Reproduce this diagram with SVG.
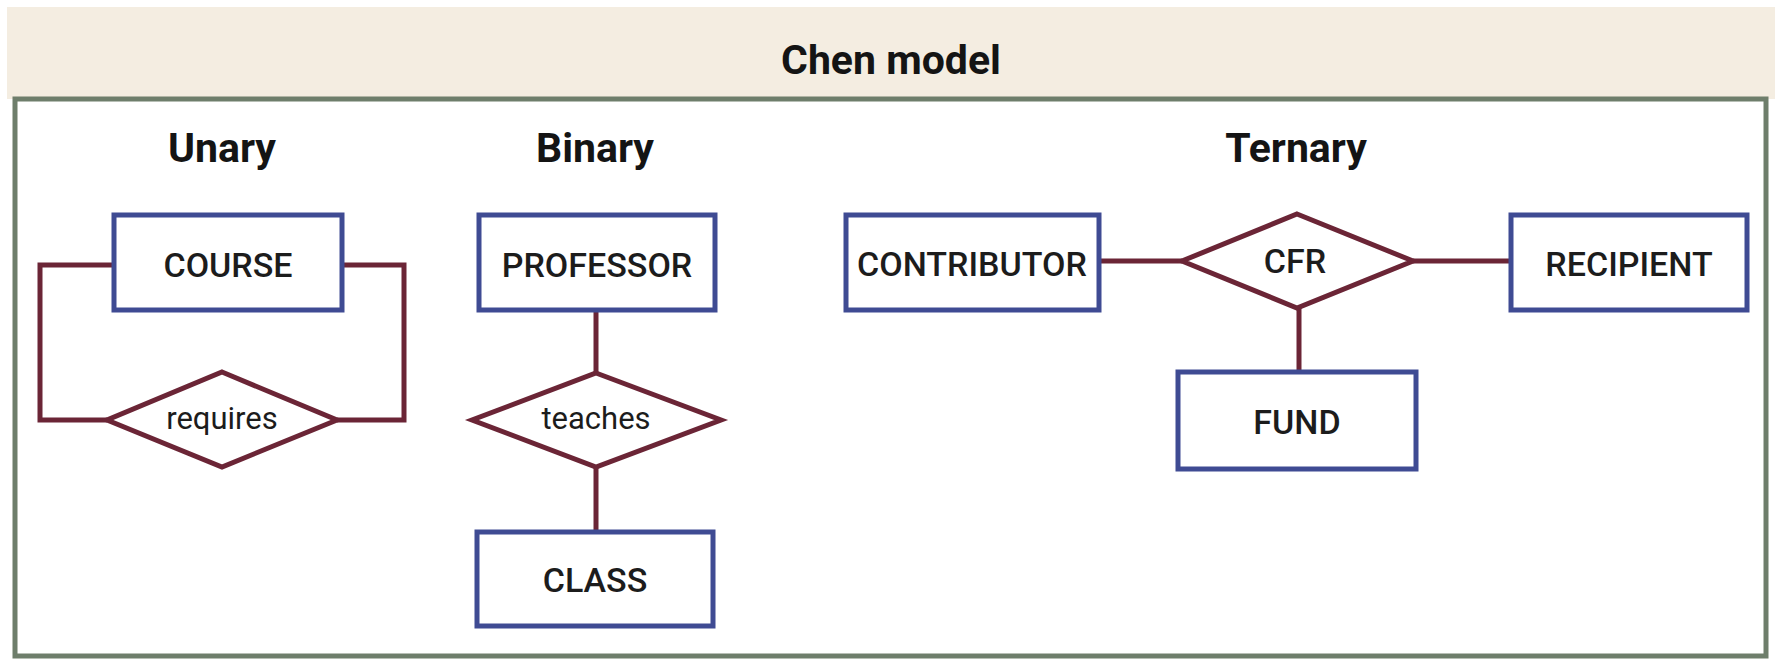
<svg xmlns="http://www.w3.org/2000/svg" width="1775" height="660" viewBox="0 0 1775 660">
<style>
.ent{fill:#ffffff;stroke:#3f4b93;stroke-width:5}
.rel{fill:#ffffff;stroke:#6b2536;stroke-width:5;stroke-linejoin:miter}
.con{fill:none;stroke:#6b2536;stroke-width:5}
.etx{font-family:Roboto,"Liberation Sans",sans-serif;font-weight:500;font-size:34px;fill:#1c1c1c;text-anchor:middle}
.rtx{font-family:Roboto,"Liberation Sans",sans-serif;font-weight:400;font-size:31px;fill:#1c1c1c;text-anchor:middle}
.hdr{font-family:Roboto,"Liberation Sans",sans-serif;font-weight:700;font-size:41px;fill:#141414;text-anchor:middle}
</style>
<rect x="0" y="0" width="1775" height="660" fill="#ffffff"/>
<rect x="7" y="7" width="1768" height="92" fill="#f4ede1"/>
<rect x="15" y="99" width="1751" height="557" fill="#ffffff" stroke="#6e7e6b" stroke-width="5"/>
<text class="hdr" x="891" y="74" font-size="43">Chen model</text>
<text class="hdr" x="222" y="162">Unary</text>
<text class="hdr" x="595" y="162">Binary</text>
<text class="hdr" x="1296" y="162">Ternary</text>
<g id="connectors">
<polyline class="con" points="114,265 40,265 40,420 107,420"/>
<polyline class="con" points="340,265 404,265 404,420 337,420"/>
<line class="con" x1="596" y1="310" x2="596" y2="373"/>
<line class="con" x1="596" y1="467" x2="596" y2="530"/>
<line class="con" x1="1099" y1="261" x2="1182" y2="261"/>
<line class="con" x1="1413" y1="261" x2="1509" y2="261"/>
<line class="con" x1="1299" y1="308" x2="1299" y2="371"/>
</g>
<g id="course"><rect class="ent" x="114" y="215" width="228" height="95"/><text class="etx" x="228" y="277">COURSE</text></g>
<g id="requires"><polygon class="rel" points="222,372 337,420 222,467 107,420"/><text class="rtx" x="222" y="429">requires</text></g>
<g id="professor"><rect class="ent" x="479" y="215" width="236" height="95"/><text class="etx" x="597" y="277">PROFESSOR</text></g>
<g id="teaches"><polygon class="rel" points="596,373 721,420 596,467 472,420"/><text class="rtx" x="596" y="429">teaches</text></g>
<g id="class"><rect class="ent" x="477" y="532" width="236" height="94"/><text class="etx" x="595" y="592">CLASS</text></g>
<g id="contributor"><rect class="ent" x="846" y="215" width="253" height="95"/><text class="etx" x="972" y="276">CONTRIBUTOR</text></g>
<g id="cfr"><polygon class="rel" points="1297,214 1413,261 1297,308 1182,261"/><text class="etx" x="1295" y="273" font-size="32">CFR</text></g>
<g id="recipient"><rect class="ent" x="1511" y="215" width="236" height="95"/><text class="etx" x="1629" y="276">RECIPIENT</text></g>
<g id="fund"><rect class="ent" x="1178" y="372" width="238" height="97"/><text class="etx" x="1297" y="434">FUND</text></g>
</svg>
